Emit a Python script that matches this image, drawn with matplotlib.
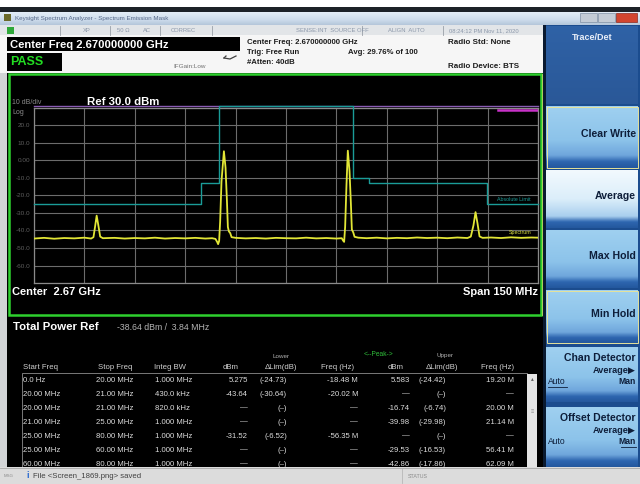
import matplotlib
matplotlib.use('Agg')
import matplotlib.pyplot as plt
import numpy as np
from matplotlib.patches import Rectangle

plt.rcParams['font.family'] = ['Liberation Sans', 'DejaVu Sans']

# spectrum trace, offset from 2.67 GHz centre (MHz) and level (dBm)
FREQ_MHZ = [-75.0, -72.0, -69.0, -66.0, -63.0, -60.0, -58.0, -57.3, -56.8, -56.35,
            -55.9, -55.3, -54.5, -51.0, -48.0, -45.0, -42.0, -39.0, -36.0, -33.0,
            -30.0, -27.0, -24.0, -22.0, -21.0, -20.5, -20.2, -19.9, -19.6, -19.2,
            -18.48, -18.0, -17.6, -17.3, -17.0, -16.6, -16.2, -15.0, -12.0, -9.0,
            -6.0, -3.0, 0.0, 3.0, 6.0, 9.0, 12.0, 15.0, 16.6, 17.0,
            17.3, 17.6, 18.0, 18.4, 18.9, 19.3, 19.6, 20.0, 20.4, 21.5,
            24.0, 27.0, 30.0, 33.0, 36.0, 39.0, 42.0, 45.0, 48.0, 51.0,
            54.0, 55.0, 55.8, 56.41, 57.0, 57.6, 58.5, 61.0, 64.0, 67.0,
            70.0, 73.0, 75.0]
LEVEL_DBM = [-44.6, -44.2, -44.7, -44.3, -44.5, -44.1, -44.6, -43.8, -37.5, -31.5,
             -36.5, -43.5, -44.4, -44.2, -44.6, -44.3, -44.5, -44.1, -44.6, -44.3,
             -44.5, -44.2, -44.6, -44.4, -44.8, -46.5, -47.8, -46.0, -35.0, -12.0,
             5.3, -4.0, -22.0, -38.0, -40.5, -41.5, -43.8, -44.2, -44.5, -44.3,
             -44.6, -44.2, -44.4, -44.5, -44.1, -44.5, -44.3, -44.6, -44.4, -45.8,
             -46.5, -38.0, -14.0, 5.6, -6.0, -24.0, -39.5, -41.0, -43.6, -44.1,
             -44.4, -44.1, -44.5, -44.2, -44.4, -44.0, -44.3, -44.1, -44.4, -44.0,
             -44.3, -43.5, -37.0, -29.5, -36.0, -43.4, -44.2, -44.0, -44.3, -43.9,
             -44.2, -44.0, -44.1]

# absolute limit mask
MASK_FREQ = [-75, -25.3, -25.3, -19.9, -19.9, 19.9, 19.9, 24.7, 24.7, 59.8, 59.8, 75]
MASK_DBM = [-25, -25, -13, -13, 31, 31, -10, -10, -13, -13, -25, -25]

TOP_LINE_FREQ = [-75, 75]
TOP_LINE_DBM = [31.2, 31.2]
UPPER_FREQ = [63.0, 75.0]
UPPER_DBM = [28.8, 28.8]

YTICKS = [30, 20, 10, 0, -10, -20, -30, -40, -50, -60, -70]
YTICK_LABELS = ['', '20.0', '10.0', '0.00', '-10.0', '-20.0', '-30.0', '-40.0', '-50.0', '-60.0', '']

TABLE_HEAD = ['Start Freq', 'Stop Freq', 'Integ BW', 'dBm', '\u0394Lim(dB)', 'Freq (Hz)',
              'dBm', '\u0394Lim(dB)', 'Freq (Hz)']
TABLE_ROWS = [
    ['0.0 Hz', '20.00 MHz', '1.000 MHz', '5.275', '(-24.73)', '-18.48 M', '5.583', '(-24.42)', '19.20 M'],
    ['20.00 MHz', '21.00 MHz', '430.0 kHz', '-43.64', '(-30.64)', '-20.02 M', '\u2014', '(\u2013)', '\u2014'],
    ['20.00 MHz', '21.00 MHz', '820.0 kHz', '\u2014', '(\u2013)', '\u2014', '-16.74', '(-6.74)', '20.00 M'],
    ['21.00 MHz', '25.00 MHz', '1.000 MHz', '\u2014', '(\u2013)', '\u2014', '-39.98', '(-29.98)', '21.14 M'],
    ['25.00 MHz', '80.00 MHz', '1.000 MHz', '-31.52', '(-6.52)', '-56.35 M', '\u2014', '(\u2013)', '\u2014'],
    ['25.00 MHz', '60.00 MHz', '1.000 MHz', '\u2014', '(\u2013)', '\u2014', '-29.53', '(-16.53)', '56.41 M'],
    ['60.00 MHz', '80.00 MHz', '1.000 MHz', '\u2014', '(\u2013)', '\u2014', '-42.86', '(-17.86)', '62.09 M'],
]
COL_X = [23, 96, 155, 248, 287, 358, 410, 446, 514]
COL_HA = ['left', 'left', 'left', 'right', 'right', 'right', 'right', 'right', 'right']
HEAD_X = [23, 98, 154, 231, 281, 338, 396, 442, 498]

BUTTONS = ['Clear Write', 'Average', 'Max Hold', 'Min Hold']
BUTTON_Y = [(106, 168), (170, 228), (230, 288), (290, 343)]

fig = plt.figure(figsize=(6.4, 4.84), dpi=100, facecolor='#d2d4d6')
ui = fig.add_axes([0, 0, 1, 1])
ui.set_xlim(0, 640)
ui.set_ylim(484, 0)
ui.axis('off')


def rect(x0, y0, x1, y1, color, z=1, **kw):
    ui.add_patch(Rectangle((x0, y0), x1 - x0, y1 - y0, facecolor=color,
                           edgecolor=kw.pop('ec', 'none'), zorder=z, **kw))


def grad(x0, y0, x1, y1, stops, z=1):
    pos = [s[0] for s in stops]
    cols = np.array([matplotlib.colors.to_rgb(s[1]) for s in stops])
    t = np.linspace(0, 1, 64)
    arr = np.stack([np.interp(t, pos, cols[:, i]) for i in range(3)], axis=-1)[:, None, :]
    ui.imshow(arr, extent=(x0, x1, y1, y0), aspect='auto', interpolation='bilinear', zorder=z)


# window chrome
rect(0, 0, 640, 7, '#ffffff')
rect(0, 7, 640, 12, '#1c2228')
grad(0, 12, 640, 25, [(0, '#e4eef8'), (0.6, '#cddcec'), (1, '#b4c6da')])
rect(4, 14, 11, 21, '#6b6a2a')
ui.text(15, 18.5, 'Keysight Spectrum Analyzer - Spectrum Emission Mask', fontsize=4.5,
        color='#56698a', va='center')
rect(580, 13, 597, 22, '#c4ccd6', ec='#8090a4', lw=0.5)
rect(598, 13, 615, 22, '#c4ccd6', ec='#8090a4', lw=0.5)
rect(616, 13, 637, 22, '#d2452f', ec='#8a2a20', lw=0.5)

# status row
rect(0, 25, 543, 35, '#e2e5e8')
rect(7, 27, 14, 34, '#2fa83a')
for sx in [60, 110, 160, 212, 362, 443]:
    ui.plot([sx, sx], [25.5, 34.5], color='#9aa0a8', lw=0.6)
for sx, st in [(83, 'XP'), (117, '50 \u03a9'), (143, 'AC'), (171, 'CORREC'),
               (296, 'SENSE:INT  SOURCE OFF'), (388, 'ALIGN  AUTO'), (449, '08:24:12 PM Nov 11, 2020')]:
    ui.text(sx, 30.5, st, fontsize=4.2, color='#8c98aa', va='center')

# header block
rect(0, 35, 543, 73, '#f6f6f6')
rect(7, 37, 240, 51, '#000000')
rect(7, 53, 62, 71, '#000000')
ui.text(10, 44.5, 'Center Freq 2.670000000 GHz', fontsize=8.1, fontweight='bold', color='white', va='center')
ui.text(10, 62, 'PASS', fontsize=9, fontweight='bold', color='#22dd22', va='center')
ui.text(173, 67, 'IFGain:Low', fontsize=4.6, color='#707070', va='center')
ui.plot([236, 230, 224], [56, 59, 58], color='#404040', lw=0.9)
ui.plot([224, 226], [58, 56], color='#404040', lw=0.9)
for ty, st in [(42, 'Center Freq: 2.670000000 GHz'), (52, 'Trig: Free Run'), (63, '#Atten: 40dB')]:
    ui.text(247, ty, st, fontsize=5.6, fontweight='bold', color='#1e1e1e', va='center')
ui.text(348, 52, 'Avg: 29.76% of 100', fontsize=5.6, fontweight='bold', color='#1e1e1e', va='center')
ui.text(448, 43, 'Radio Std: None', fontsize=5.8, fontweight='bold', color='#1e1e1e', va='center')
ui.text(448, 66, 'Radio Device: BTS', fontsize=5.8, fontweight='bold', color='#1e1e1e', va='center')

# plot frame and table area
rect(7, 73, 543, 467, '#000000')
rect(8.5, 74, 540.5, 315, 'none', z=4, ec='#2ed02e', lw=1.8)
ui.plot([542, 542], [74, 315], color='#c8d86a', lw=0.6, zorder=4)
ui.text(12, 102, '10 dB/div', fontsize=5, color='#8a8a8a', va='center')
ui.text(12, 112, 'Log', fontsize=5, color='#8a8a8a', va='center')
ui.text(87, 102, 'Ref 30.0 dBm', fontsize=8.2, fontweight='bold', color='white', va='center')
ui.text(12, 292, 'Center  2.67 GHz', fontsize=8, fontweight='bold', color='white', va='center')
ui.text(538, 292, 'Span 150 MHz', fontsize=8, fontweight='bold', color='white', va='center', ha='right')

# measurement table
ui.text(13, 327, 'Total Power Ref', fontsize=8.2, fontweight='bold', color='white', va='center')
ui.text(117, 328, '-38.64 dBm /  3.84 MHz', fontsize=6.3, color='#b4b4b4', va='center')
ui.text(281, 356, 'Lower', fontsize=4.5, color='#b4b4b4', va='center', ha='center')
ui.text(379, 354, '<--Peak->', fontsize=4.8, color='#2fbf3a', va='center', ha='center')
ui.text(445, 356, 'Upper', fontsize=4.5, color='#b4b4b4', va='center', ha='center')
for hx, ht in zip(HEAD_X, TABLE_HEAD):
    ui.text(hx, 367.5, ht, fontsize=5.6, color='#d0d0d0', va='center',
            ha='left' if hx in (23, 98, 154) else 'center')
rect(22, 373, 527, 480, 'none', z=2, ec='#8c8c8c', lw=0.6)
for r, row in enumerate(TABLE_ROWS):
    for cx, ha, val in zip(COL_X, COL_HA, row):
        ui.text(cx, 380 + 14 * r, val, fontsize=5.6, color='#dcdcdc', va='center', ha=ha, zorder=3)
rect(527, 374, 537, 467, '#e4e4e4', z=3)
ui.text(532, 379, '\u25b4', fontsize=4, color='#606060', ha='center', va='center', zorder=4)
ui.text(532, 412, '\u2261', fontsize=4, color='#909090', ha='center', va='center', zorder=4)

# status bar
rect(0, 467, 640, 484, '#dcdcdc', z=10)
ui.plot([0, 640], [467.5, 467.5], color='#a8a8a8', lw=0.6, zorder=11)
ui.text(4, 476, 'MSG', fontsize=3.2, color='#8a8a8a', va='center', zorder=11)
ui.text(26, 475.5, 'i', fontsize=6.5, fontweight='bold', color='#2a6ad0', va='center', zorder=11)
ui.text(33, 476, 'File <Screen_1869.png> saved', fontsize=5.6, color='#404040', va='center', zorder=11)
ui.text(408, 476, 'STATUS', fontsize=3.8, color='#8a8a8a', va='center', zorder=11)
ui.plot([402, 402], [469, 483], color='#b8b8b8', lw=0.6, zorder=11)

# right soft-key panel
rect(543, 25, 640, 470, '#1b4c8e', z=5)
rect(543, 25, 546, 470, '#0a1a30', z=5)
grad(546, 26, 638, 104, [(0, '#2f62a6'), (1, '#2a5898')], z=6)
ui.text(592, 38, 'Trace/Det', fontsize=6.5, fontweight='bold', color='#e8eef8', ha='center', va='center', zorder=7)

normal = [(0, '#9fd0f0'), (0.55, '#8cc3ea'), (0.8, '#6fa6dc'), (0.9, '#2e66b0'), (1, '#24589e')]
selected = [(0, '#f2f9fe'), (0.5, '#dbeefa'), (0.8, '#a9cfee'), (0.9, '#2e66b0'), (1, '#24589e')]
for name, (y0, y1) in zip(BUTTONS, BUTTON_Y):
    grad(546, y0, 638, y1, selected if name == 'Average' else normal, z=6)
    ui.text(636, y0 + (y1 - y0) * 0.45, name, fontsize=7.6, fontweight='bold', color='#0e1e3a',
            ha='right', va='center', zorder=7)
for y0, y1 in [BUTTON_Y[0], BUTTON_Y[3]]:
    rect(546.5, y0 + 0.5, 637.5, y1 - 0.5, 'none', z=7, ec='#e6e29a', lw=0.7)

for (y0, y1), title, under in [((347, 402), 'Chan Detector', 'Auto'), ((407, 467), 'Offset Detector', 'Man')]:
    grad(546, y0, 638, y1, normal, z=6)
    ui.text(636, y0 + 11, title, fontsize=7.6, fontweight='bold', color='#0e1e3a', ha='right', va='center', zorder=7)
    ui.text(636, y0 + 23.5, 'Average\u25b6', fontsize=6.6, fontweight='bold', color='#0e1e3a',
            ha='right', va='center', zorder=7)
    ui.text(548, y0 + 35, 'Auto', fontsize=6.2, color='#0e1e3a', ha='left', va='center', zorder=7)
    ui.text(636, y0 + 35, 'Man', fontsize=6.2, fontweight='bold', color='#0e1e3a', ha='right', va='center', zorder=7)
    ux = (548, 567) if under == 'Auto' else (621, 636)
    ui.plot(ux, [y0 + 39.5, y0 + 39.5], color='#0e1e3a', lw=0.6, zorder=7)

# spectrum graticule
ax = fig.add_axes([34 / 640, 1 - 283 / 484, 504 / 640, 175 / 484], facecolor='black')
ax.set_xlim(-75, 75)
ax.set_ylim(-70, 30)
ax.set_xticks(np.arange(-75, 76, 15))
ax.set_yticks(YTICKS)
ax.set_yticklabels(YTICK_LABELS)
ax.set_xticklabels([])
ax.tick_params(length=0, labelsize=4.6, labelcolor='#5e5e5e', pad=2.5)
ax.grid(True, color='#6c6c6c', lw=0.8)
for s in ax.spines.values():
    s.set_color('#8a8a8a')
    s.set_linewidth(0.9)

ax.plot(TOP_LINE_FREQ, TOP_LINE_DBM, color='#8a5cb4', lw=1.0, clip_on=False, zorder=3)
ax.plot(UPPER_FREQ, UPPER_DBM, color='#c832c8', lw=1.8, zorder=3)
ax.plot(MASK_FREQ, MASK_DBM, color='#1a9c98', lw=1.0, clip_on=False, zorder=4)
ax.plot(FREQ_MHZ, LEVEL_DBM, color='#e2e636', lw=1.3, zorder=5)
ax.text(62.8, -22.3, 'Absolute Limit', fontsize=3.8, color='#1a9c98', va='center', clip_on=True)
ax.text(66.2, -41.3, 'Spectrum', fontsize=3.8, color='#d8dc40', va='center', clip_on=True)

fig.savefig('out.png', dpi=100, facecolor=fig.get_facecolor())
